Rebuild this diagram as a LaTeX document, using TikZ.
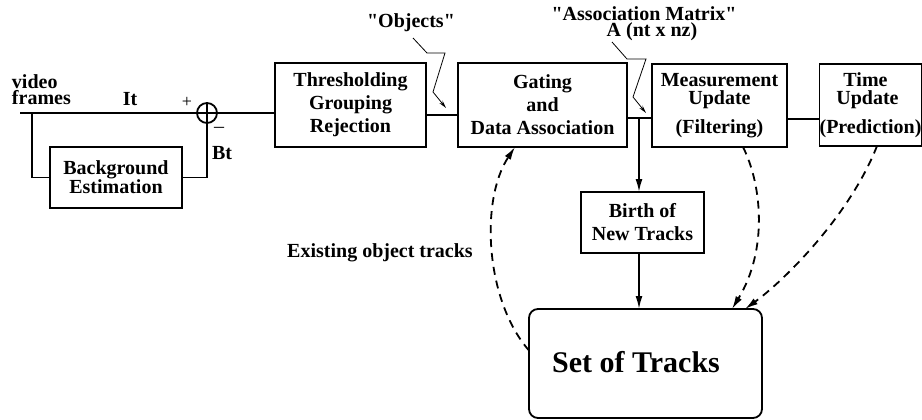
\documentclass[tikz,border=0pt]{standalone}
\usepackage{fontspec}
\setmainfont{Liberation Serif}
\usetikzlibrary{arrows.meta,calc}
\begin{document}
\begin{tikzpicture}[x=1pt,y=-1pt,
  every node/.style={inner sep=0pt,outer sep=0pt,font=\fontsize{20}{23}\selectfont\bfseries},
  blk/.style={draw,line width=1.8pt,align=center},
  wire/.style={line width=1.8pt},
  arr/.style={line width=1.8pt,-{Latex[length=13pt,width=7pt]}},
  darr/.style={line width=1.8pt,dash pattern=on 8pt off 6pt,-{Latex[length=13pt,width=7pt]}},
  bolt/.style={line width=0.8pt,-{Stealth[length=8pt,width=4pt]}},
  lbl/.style={align=center}]
\useasboundingbox (0,0) rectangle (922,420);
% boxes
\node[blk,minimum width=151pt,minimum height=84pt] (thr) at (350.5,105) {Thresholding\\Grouping\\Rejection};
\node[blk,minimum width=169pt,minimum height=84pt] (gate) at (542.5,105) {Gating\\and\\Data Association};
\node[blk,minimum width=135pt,minimum height=83pt,font=\fontsize{20}{18}\selectfont\bfseries] (meas) at (719.5,105.5) {Measurement\\Update\\[10pt](Filtering)};
\node[blk,minimum width=101pt,minimum height=82pt,font=\fontsize{20}{18}\selectfont\bfseries] (time) at (870.5,105) {\hspace*{-10pt}Time\\\hspace*{-6pt}Update\\[10pt](Prediction)};
\node[blk,minimum width=132pt,minimum height=61pt,font=\fontsize{20}{17}\selectfont\bfseries] (bg) at (116,177.5) {Background\\Estimation};
\node[blk,minimum width=123pt,minimum height=61pt] (birth) at (642.5,222.5) {Birth of\\New Tracks};
\node[blk,rounded corners=9pt,minimum width=233pt,minimum height=109pt] (set) at (645.5,363.5) {};
\node[font=\fontsize{30}{34}\selectfont\bfseries] (settxt) at (636,362) {Set of Tracks};
% summing junction
\node[draw,circle,line width=1.8pt,minimum size=20pt] (sum) at (207,113) {};
\draw[line width=1.8pt] (sum.north) -- (sum.south) (sum.west) -- (sum.east);
% labels
\node[anchor=west,align=left,font=\fontsize{20}{15.5}\selectfont\bfseries] (vf) at (12,89.5) {video\\frames};
\node (it) at (130,99) {It};
\node[font=\fontsize{18}{18}\selectfont] (plus) at (187,102) {+};
\node[font=\fontsize{20}{20}\selectfont] (minus) at (219,130) {\textendash};
\node (bt) at (222,153) {Bt};
\node (obj) at (411,23) {\textquotedbl Objects\textquotedbl};
\node (am) at (644,14) {\textquotedbl Association Matrix\textquotedbl};
\node (amA) at (652,32) {A (nt x nz)};
\node (ex) at (380,253) {Existing object tracks};
% coordinates
\coordinate (in) at (20,113);
\coordinate (br) at (32,113);
\coordinate (m1) at (442,115);
\coordinate (j) at (639,118);
\coordinate (m2) at (803,119);
\coordinate (objtail) at (413,38);
\coordinate (objtip) at (446,108);
\coordinate (amtail) at (612,42);
\coordinate (amtip) at (646,113);
% wires
\draw[wire] (in) -- (sum.west);
\draw[wire] (br) |- (bg.west);
\draw[wire] (bg.east) -| (sum.south);
\draw[wire] (sum.east) -- (sum.east -| thr.west);
\draw[wire] (thr.east |- m1) -- (gate.west |- m1);
\draw[wire] (gate.east |- j) -- (meas.west |- j);
\draw[wire] (meas.east |- m2) -- (time.west |- m2);
\draw[arr] (j) -- (j |- birth.north);
\draw[arr] (j |- birth.south) -- (j |- set.north);
% dashed feedback
\draw[darr] ([yshift=13pt]set.west) .. controls (485,300) and (480,200) .. ([xshift=-27.5pt]gate.south);
\draw[darr] ([xshift=23.5pt]meas.south) .. controls (762,185) and (768,250) .. ([xshift=86.5pt]set.north);
\draw[darr] ([xshift=6.5pt]time.south) .. controls (850,215) and (785,280) .. ([xshift=99.5pt]set.north);
% lightning pointers
\draw[bolt] (objtail) -- (427,53) -- (445,53) -- (433,92) -- (objtip);
\draw[bolt] (amtail) -- (627,59) -- (646,59) -- (633,97) -- (amtip);
\end{tikzpicture}
\end{document}
